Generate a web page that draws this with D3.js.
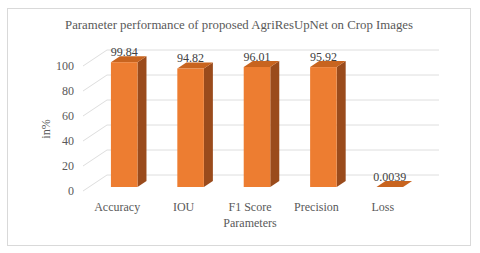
<!DOCTYPE html>
<html>
<head>
<meta charset="utf-8">
<script src="https://cdn.jsdelivr.net/npm/d3@7"></script>
<style>
  body { margin: 0; background: #fff; }
  text { font-family: "Liberation Serif", "Times New Roman", serif; }
</style>
</head>
<body>
<svg id="chart" width="480" height="253"></svg>
<script>
// data
var categories = ["Accuracy", "IOU", "F1 Score", "Precision", "Loss"];
var values = [99.84, 94.82, 96.01, 95.92, 0.0039];
var valueLabels = ["99.84", "94.82", "96.01", "95.92", "0.0039"];
var yTicks = [0, 20, 40, 60, 80, 100];

var svg = d3.select("#chart");

// outer frame
svg.append("rect")
  .attr("x", 7.5).attr("y", 8.5)
  .attr("width", 463).attr("height", 237)
  .attr("fill", "#fff")
  .attr("stroke", "#d9d9d9");

// title
svg.append("text")
  .attr("x", 239).attr("y", 29)
  .attr("text-anchor", "middle")
  .attr("font-size", 12.8)
  .attr("fill", "#595959")
  .text("Parameter performance of proposed AgriResUpNet on Crop Images");

// scales (front face of the bars)
var x = d3.scaleBand()
  .domain(categories)
  .range([91, 423])
  .paddingInner(0.6)
  .paddingOuter(0.3);
var y = d3.scaleLinear()
  .domain([0, 100])
  .range([187, 62]);

// depth offsets for the 3D look
var wallDy = -16;                // side wall depth
var barDx = 9, barDy = -6;       // bar depth
var frontX = 83, backX = 107, backRight = 439;

// gridlines: diagonal on side wall + horizontal on back wall
var grid = svg.append("g").attr("stroke", "#dedede").attr("fill", "none");
yTicks.forEach(function(t) {
  var yf = y(t) + 4;
  var yb = yf + wallDy;
  grid.append("path")
    .attr("d", "M" + frontX + "," + yf + "L" + backX + "," + yb + "L" + backRight + "," + yb);
});

// tick labels
svg.append("g").selectAll("text")
  .data(yTicks).enter()
  .append("text")
  .attr("x", 74)
  .attr("y", function(d) { return y(d) + 4; })
  .attr("dy", "0.35em")
  .attr("text-anchor", "end")
  .attr("font-size", 12)
  .attr("fill", "#595959")
  .text(function(d) { return d; });

// bars
var bars = svg.append("g").selectAll("g")
  .data(values).enter()
  .append("g");

bars.each(function(d, i) {
  var g = d3.select(this);
  var x0 = x(categories[i]), w = x.bandwidth();
  var yt = y(d), yb = y(0);
  // side face
  g.append("path")
    .attr("d", "M" + (x0 + w) + "," + yb + "L" + (x0 + w + barDx) + "," + (yb + barDy) +
      "L" + (x0 + w + barDx) + "," + (yt + barDy) + "L" + (x0 + w) + "," + yt + "Z")
    .attr("fill", "#9a4b1c");
  // top face
  g.append("path")
    .attr("d", "M" + x0 + "," + yt + "L" + (x0 + barDx) + "," + (yt + barDy) +
      "L" + (x0 + w + barDx) + "," + (yt + barDy) + "L" + (x0 + w) + "," + yt + "Z")
    .attr("fill", "#c8641f");
  // front face
  g.append("rect")
    .attr("x", x0).attr("y", yt)
    .attr("width", w).attr("height", yb - yt)
    .attr("fill", "#ed7d31");
});

// value labels
svg.append("g").selectAll("text")
  .data(values).enter()
  .append("text")
  .attr("x", function(d, i) { return x(categories[i]) + x.bandwidth() / 2; })
  .attr("y", function(d) { return y(d) - 6; })
  .attr("text-anchor", "middle")
  .attr("font-size", 12)
  .attr("fill", "#404040")
  .text(function(d, i) { return valueLabels[i]; });

// category labels
svg.append("g").selectAll("text")
  .data(categories).enter()
  .append("text")
  .attr("x", function(d) { return x(d) + x.bandwidth() / 2 - 7; })
  .attr("y", 211)
  .attr("text-anchor", "middle")
  .attr("font-size", 12)
  .attr("fill", "#595959")
  .text(function(d) { return d; });

// axis titles
svg.append("text")
  .attr("x", 250).attr("y", 227)
  .attr("text-anchor", "middle")
  .attr("font-size", 12)
  .attr("fill", "#595959")
  .text("Parameters");

svg.append("text")
  .attr("transform", "translate(46,129) rotate(-90)")
  .attr("dy", "0.35em")
  .attr("text-anchor", "middle")
  .attr("font-size", 12)
  .attr("fill", "#595959")
  .text("in%");
</script>
</body>
</html>
